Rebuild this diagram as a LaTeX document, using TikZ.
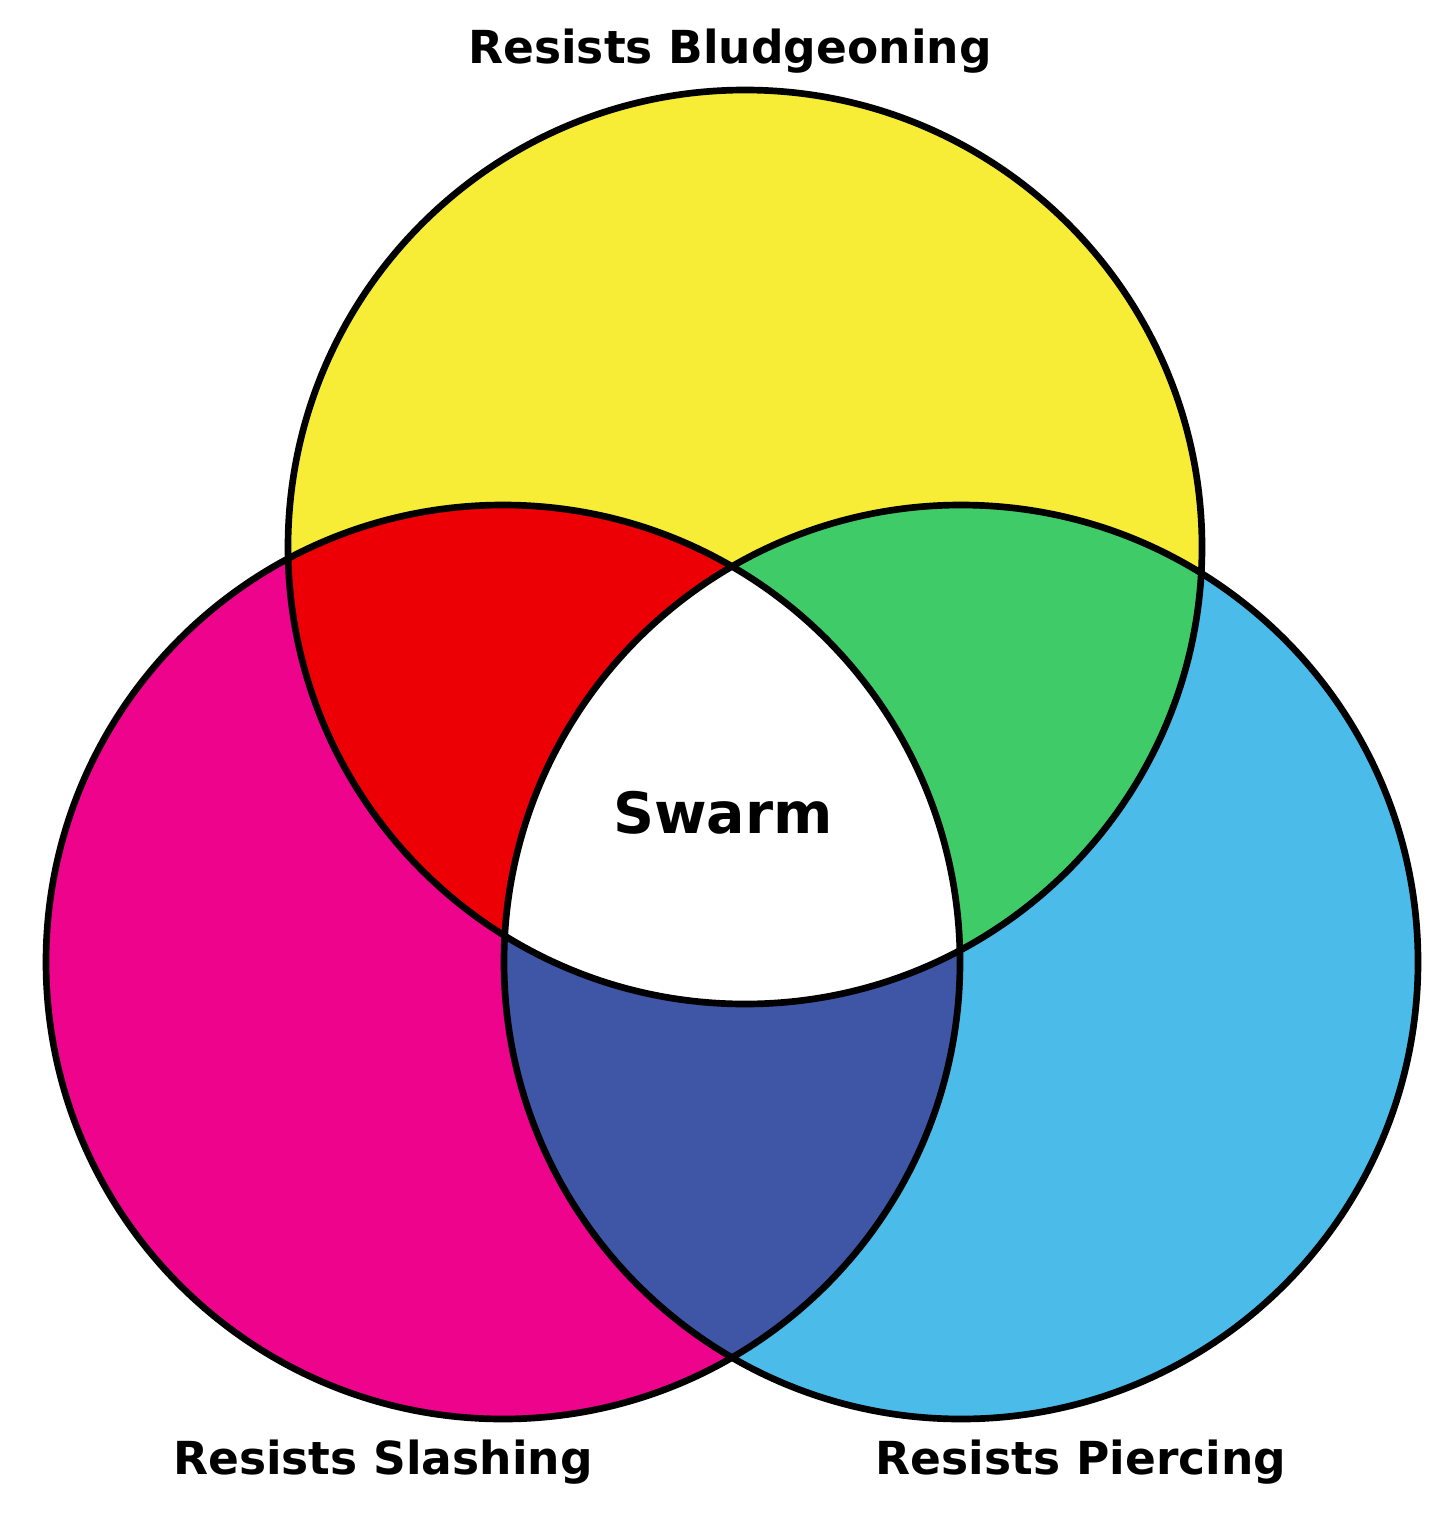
\documentclass[tikz,border=0pt]{standalone}
\usepackage{fontspec}
\setmainfont{DejaVu Sans}
\usetikzlibrary{positioning}
\definecolor{bludg}{HTML}{F7EC36}
\definecolor{slash}{HTML}{EE038D}
\definecolor{pierce}{HTML}{4BBBEA}
\definecolor{bludgslash}{HTML}{EC0006}
\definecolor{bludgpierce}{HTML}{3FCB67}
\definecolor{slashpierce}{HTML}{3F55A5}

\begin{document}
\begin{tikzpicture}[line width=1.9pt, label text/.style={font=\bfseries\fontsize{12.95}{15}\selectfont, inner sep=0pt, anchor=base}]
    \useasboundingbox (0,0) rectangle (14.56,-15.27);
    \coordinate (top) at (7.45,-5.47);
    \coordinate (left) at (5.03,-9.62);
    \coordinate (right) at (9.61,-9.62);
    \fill [bludg] (top) circle (4.57);
    \fill [slash] (left) circle (4.57);
    \fill [pierce] (right) circle (4.57);
    \begin{scope}
        \clip (top) circle (4.57);
        \fill [bludgslash] (left) circle (4.57);
        \fill [bludgpierce] (right) circle (4.57);
    \end{scope}
    \begin{scope}
        \clip (left) circle (4.57);
        \fill [slashpierce] (right) circle (4.57);
        \clip (top) circle (4.57);
        \fill [white] (right) circle (4.57);
    \end{scope}
    \foreach \c in {top, left, right}
        \draw (\c) circle (4.57);
    \node [label text] (bludgeoning) at (7.30,-0.63) {Resists Bludgeoning};
    \node [label text] (slashing) at (3.83,-14.74) {Resists Slashing};
    \node [label text] (piercing) at (10.81,-14.74) {Resists Piercing};
    \node [label text, font=\bfseries\fontsize{16.2}{19}\selectfont] (swarm) at (7.23,-8.33) {Swarm};
\end{tikzpicture}
\end{document}
